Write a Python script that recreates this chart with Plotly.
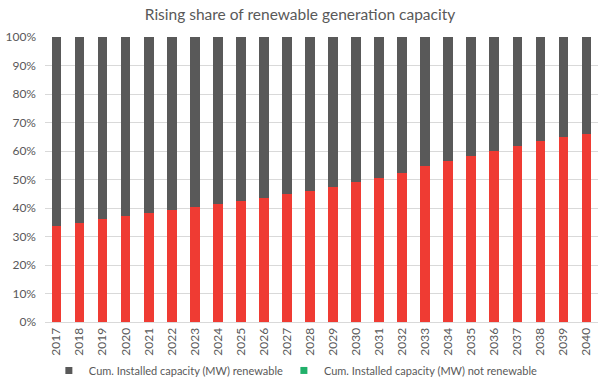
import plotly.graph_objects as go

years = [str(y) for y in range(2017, 2041)]
renewable_pct = [33.6, 34.8, 36.1, 37.3, 38.2, 39.3, 40.2, 41.4, 42.5, 43.6, 44.8, 46.0,
                 47.4, 49.0, 50.6, 52.4, 54.6, 56.5, 58.2, 60.0, 61.8, 63.4, 64.8, 66.1]
not_renewable_pct = [round(100 - v, 1) for v in renewable_pct]
legend_names = ["Cum. Installed capacity (MW) renewable",
                "Cum. Installed capacity (MW) not renewable"]
y_ticks = [0, 10, 20, 30, 40, 50, 60, 70, 80, 90, 100]
y_tick_labels = [f"{v}%" for v in y_ticks]

RED = "#EF3B33"
GRAY = "#595959"
GREEN = "#21B06A"
TXT = "#595959"
FONT = "Lato, Open Sans, sans-serif"

fig = go.Figure()
fig.add_trace(go.Bar(x=years, y=renewable_pct, marker=dict(color=RED, line=dict(width=0)),
                     showlegend=False, name=legend_names[0]))
fig.add_trace(go.Bar(x=years, y=not_renewable_pct, marker=dict(color=GRAY, line=dict(width=0)),
                     showlegend=False, name=legend_names[1]))
# legend entries (series default formats as in the original)
fig.add_trace(go.Scatter(x=years[:1], y=[None], mode="markers",
                         marker=dict(symbol="square", size=7, color=GRAY),
                         name=legend_names[0], hoverinfo="skip", legend="legend"))
fig.add_trace(go.Scatter(x=years[:1], y=[None], mode="markers",
                         marker=dict(symbol="square", size=7, color=GREEN),
                         name=legend_names[1], hoverinfo="skip", legend="legend2"))

legend_common = dict(orientation="h", y=-0.17, yanchor="middle", xanchor="left",
                     font=dict(family=FONT, size=11, color=TXT), itemwidth=30,
                     bgcolor="rgba(0,0,0,0)")

fig.update_layout(
    barmode="stack",
    bargap=0.58,
    width=600, height=385,
    margin=dict(l=45, r=2, t=37, b=63, autoexpand=False),
    paper_bgcolor="white", plot_bgcolor="white",
    title=dict(text="Rising share of renewable generation capacity", x=0.5, xanchor="center",
               y=0.963, yanchor="middle", font=dict(family=FONT, size=15.5, color=TXT)),
    font=dict(family=FONT, size=11, color=TXT),
    legend=dict(x=0.007, **legend_common),
    legend2=dict(x=0.432, **legend_common),
    xaxis=dict(type="category", categoryorder="array", categoryarray=years,
               range=[-0.5, len(years) - 0.5],
               tickangle=-90, tickfont=dict(size=12, color=TXT), showgrid=False,
               showline=True, linecolor="#D9D9D9", linewidth=1, ticks="", ticklen=0,
               automargin=False),
    yaxis=dict(range=[0, 100], tickvals=y_ticks, ticktext=y_tick_labels,
               showgrid=True, gridcolor="#D9D9D9", gridwidth=1, zeroline=False,
               tickfont=dict(size=12, color=TXT), ticks="", ticklabelstandoff=8,
               automargin=False),
)

fig.write_html("out.html", config={"displayModeBar": False},
               post_script="document.body.style.margin='0';")
